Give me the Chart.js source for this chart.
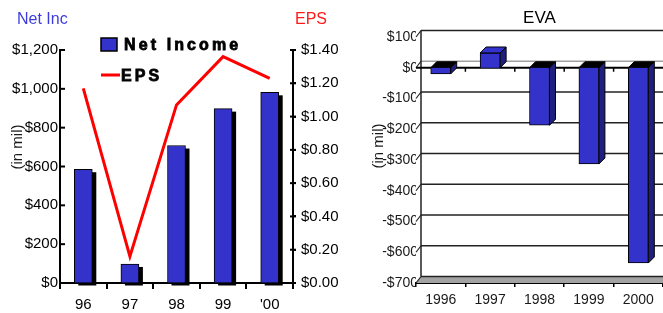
<!DOCTYPE html>
<html><head><meta charset="utf-8">
<script src="https://cdn.jsdelivr.net/npm/chart.js@4"></script>
<style>
html,body{margin:0;padding:0;background:#fff;width:663px;height:313px;overflow:hidden;position:relative;}
#c1{position:absolute;left:0;top:0;width:360px;height:313px;}
#c2{position:absolute;left:340px;top:0;width:323px;height:313px;}
</style></head><body>
<canvas id="c1" width="360" height="313"></canvas>
<canvas id="c2" width="323" height="313"></canvas>
<script>
// ---- data ----
const categories = ['96', '97', '98', '99', "'00"];
const netIncome = [586, 98, 708, 898, 982];
const eps = [1.17, 0.16, 1.07, 1.36, 1.23];
const netIncTickLabels = ['$0', '$200', '$400', '$600', '$800', '$1,000', '$1,200'];
const epsTickLabels = ['$0.00', '$0.20', '$0.40', '$0.60', '$0.80', '$1.00', '$1.20', '$1.40'];
const evaYears = ['1996', '1997', '1998', '1999', '2000'];
const evaValues = [-20, 48, -187, -313, -635];
const evaTickLabels = ['-$700', '-$600', '-$500', '-$400', '-$300', '-$200', '-$100', '$0', '$100'];

Chart.defaults.font.family = '"Liberation Sans", Arial, sans-serif';
Chart.defaults.color = '#000';

const BLUE = '#3333cc';

function line(ctx, x1, y1, x2, y2) { ctx.beginPath(); ctx.moveTo(x1, y1); ctx.lineTo(x2, y2); ctx.stroke(); }

// ---- left chart plugins ----
const leftDeco = {
  id: 'leftDeco',
  beforeDatasetsDraw(chart) {
    const ctx = chart.ctx;
    const meta = chart.getDatasetMeta(1);
    ctx.save();
    ctx.fillStyle = '#000';
    meta.data.forEach(el => {
      const p = el.getProps(['x', 'y', 'base', 'width'], true);
      ctx.fillRect(p.x - p.width / 2 + 4, p.y + 3, p.width, p.base - p.y);
    });
    ctx.restore();
  },
  afterDraw(chart) {
    const ctx = chart.ctx;
    const a = chart.chartArea;
    ctx.save();
    // tick marks: inward on the left axis, crossing on the right axis
    ctx.strokeStyle = '#000'; ctx.lineWidth = 2;
    const sy = chart.scales.y, sy2 = chart.scales.y2;
    sy.ticks.forEach((t, i) => { const y = sy.getPixelForTick(i); line(ctx, a.left, y, a.left + 5, y); });
    sy2.ticks.forEach((t, i) => { const y = sy2.getPixelForTick(i); line(ctx, a.right - 3, y, a.right + 3, y); });
    // axis titles
    ctx.textBaseline = 'alphabetic';
    ctx.font = '16px "Liberation Sans", Arial, sans-serif';
    ctx.fillStyle = '#3c3cdc'; ctx.textAlign = 'left';
    ctx.fillText('Net Inc', 17, 24);
    ctx.fillStyle = '#ff1a1a';
    ctx.fillText('EPS', 295, 24);
    // rotated unit label
    ctx.save();
    ctx.translate(22, 147); ctx.rotate(-Math.PI / 2);
    ctx.fillStyle = '#1a1a1a'; ctx.textAlign = 'center';
    ctx.font = '15px "Liberation Sans", Arial, sans-serif';
    ctx.fillText('(in mil)', 0, 0);
    ctx.restore();
    // legend
    ctx.fillStyle = BLUE; ctx.fillRect(101, 38, 16, 13);
    ctx.strokeStyle = '#000'; ctx.lineWidth = 1.5; ctx.strokeRect(101, 38, 16, 13);
    ctx.strokeStyle = '#ff0000'; ctx.lineWidth = 3; line(ctx, 101, 75, 120, 75);
    ctx.fillStyle = '#000'; ctx.strokeStyle = '#000'; ctx.lineWidth = 0.8;
    ctx.font = 'bold 16px "Liberation Sans", Arial, sans-serif';
    ctx.letterSpacing = '3.1px';
    ctx.fillText('Net Income', 124, 50); ctx.strokeText('Net Income', 124, 50);
    ctx.fillText('EPS', 121, 81); ctx.strokeText('EPS', 121, 81);
    ctx.restore();
  }
};

new Chart(document.getElementById('c1'), {
  data: {
    labels: categories,
    datasets: [
      { type: 'line', data: eps, yAxisID: 'y2', borderColor: '#ff0000', borderWidth: 3, pointRadius: 0, tension: 0, order: 0, fill: false },
      { type: 'bar', data: netIncome, yAxisID: 'y', backgroundColor: BLUE, borderColor: '#000', borderWidth: 1, barThickness: 18, order: 1 }
    ]
  },
  options: {
    responsive: false, animation: false, events: [],
    layout: { padding: { top: 50, left: 0, right: 0, bottom: 0 } },
    plugins: { legend: { display: false }, tooltip: { enabled: false }, title: { display: false } },
    scales: {
      x: {
        type: 'category', offset: true,
        grid: { display: true, drawOnChartArea: false, offset: true, color: '#000', lineWidth: 2, tickLength: 6 },
        border: { color: '#000', width: 2 },
        ticks: { font: { size: 15 }, color: '#000', padding: 7, maxRotation: 0 },
        afterFit(s) { s.height = 30; }
      },
      y: {
        position: 'left', min: 0, max: 1200,
        ticks: { stepSize: 200, callback: (v, i) => netIncTickLabels[i], padding: 2, font: { size: 15 }, color: '#000' },
        grid: { drawOnChartArea: false, drawTicks: false },
        border: { color: '#000', width: 2 },
        afterFit(s) { s.width = 60; }
      },
      y2: {
        position: 'right', min: 0, max: 1.4,
        ticks: { stepSize: 0.2, callback: (v, i) => epsTickLabels[i], padding: 5, font: { size: 15 }, color: '#000' },
        grid: { drawOnChartArea: false, color: '#000', lineWidth: 2, tickLength: 3 },
        border: { color: '#000', width: 2 },
        afterFit(s) { s.width = 67; }
      }
    }
  },
  plugins: [leftDeco]
});

// ---- right chart (pseudo 3D) ----
const WDX = 5, WDY = 6.5;   // back wall offset
const BDX = 6, BDY = 6;     // bar depth offset
const evaDeco = {
  id: 'evaDeco',
  beforeDatasetsDraw(chart) {
    const ctx = chart.ctx, a = chart.chartArea;
    const ys = chart.scales.y, xs = chart.scales.x;
    ctx.save();
    // floor
    ctx.fillStyle = '#a3a3a3';
    ctx.beginPath();
    ctx.moveTo(a.left, a.bottom); ctx.lineTo(a.left + WDX, a.bottom - WDY);
    ctx.lineTo(a.right + WDX, a.bottom - WDY); ctx.lineTo(a.right + WDX, a.bottom);
    ctx.closePath(); ctx.fill();
    // back wall gridlines + slanted ticks
    ys.ticks.forEach((t, i) => {
      const yf = ys.getPixelForTick(i);
      const yb = yf - WDY;
      ctx.lineWidth = 1.5;
      ctx.strokeStyle = t.value === 0 ? '#a0a0a0' : '#222';
      line(ctx, a.left + WDX, yb, a.right + WDX, yb);
      ctx.strokeStyle = '#222'; ctx.lineWidth = 1.2;
      line(ctx, a.left, yf, a.left + WDX, yb);
    });
    // wall left edge
    ctx.strokeStyle = '#222'; ctx.lineWidth = 1.5;
    line(ctx, a.left + WDX, a.top - WDY, a.left + WDX, a.bottom - WDY);
    // front zero line with ticks
    const y0 = ys.getPixelForValue(0);
    ctx.strokeStyle = '#000'; ctx.lineWidth = 2;
    line(ctx, a.left, y0, a.right, y0);
    ctx.lineWidth = 1.5;
    for (let i = 1; i < evaYears.length; i++) {
      const xb = (xs.getPixelForTick(i - 1) + xs.getPixelForTick(i)) / 2;
      line(ctx, xb, y0, xb, y0 + 4);
    }
    // bar depth faces
    const meta = chart.getDatasetMeta(0);
    meta.data.forEach((el, i) => {
      const p = el.getProps(['x', 'y', 'base', 'width'], true);
      const l = p.x - p.width / 2, r = p.x + p.width / 2;
      const top = Math.min(p.y, p.base), bot = Math.max(p.y, p.base);
      ctx.lineWidth = 1; ctx.strokeStyle = '#000';
      // side
      ctx.fillStyle = '#1f1f80';
      ctx.beginPath();
      ctx.moveTo(r, top); ctx.lineTo(r + BDX, top - BDY); ctx.lineTo(r + BDX, bot - BDY); ctx.lineTo(r, bot);
      ctx.closePath(); ctx.fill(); ctx.stroke();
      // top
      ctx.fillStyle = evaValues[i] >= 0 ? BLUE : '#000';
      ctx.beginPath();
      ctx.moveTo(l, top); ctx.lineTo(l + BDX, top - BDY); ctx.lineTo(r + BDX, top - BDY); ctx.lineTo(r, top);
      ctx.closePath(); ctx.fill(); ctx.stroke();
    });
    ctx.restore();
  },
  afterDraw(chart) {
    const ctx = chart.ctx, a = chart.chartArea;
    ctx.save();
    ctx.fillStyle = '#000';
    ctx.textAlign = 'center'; ctx.textBaseline = 'alphabetic';
    ctx.font = '17px "Liberation Sans", Arial, sans-serif';
    ctx.fillText('EVA', (a.left + a.right) / 2, 23);
    ctx.save();
    ctx.translate(43, 146); ctx.rotate(-Math.PI / 2);
    ctx.fillStyle = '#1a1a1a';
    ctx.font = '15px "Liberation Sans", Arial, sans-serif';
    ctx.fillText('(in mil)', 0, 0);
    ctx.restore();
    ctx.restore();
  }
};

new Chart(document.getElementById('c2'), {
  type: 'bar',
  data: {
    labels: evaYears,
    datasets: [{ data: evaValues, backgroundColor: BLUE, borderColor: '#000', borderWidth: 1, barThickness: 20 }]
  },
  options: {
    responsive: false, animation: false, events: [],
    layout: { padding: { top: 37, left: 0, right: 0, bottom: 0 } },
    plugins: { legend: { display: false }, tooltip: { enabled: false } },
    scales: {
      x: {
        offset: true,
        grid: { display: true, drawOnChartArea: false, offset: true, color: '#000', lineWidth: 1.5, tickLength: 4 },
        border: { color: '#000', width: 2 },
        ticks: { font: { size: 14 }, color: '#1a1a1a', padding: 5, maxRotation: 0 },
        afterFit(s) { s.height = 30; }
      },
      y: {
        min: -700, max: 100,
        ticks: { stepSize: 100, callback: (v, i) => evaTickLabels[i], padding: -2, font: { size: 14 }, color: '#1a1a1a' },
        grid: { display: false, drawTicks: false },
        border: { display: false },
        afterFit(s) { s.width = 76; }
      }
    }
  },
  plugins: [evaDeco]
});
</script>
</body></html>
